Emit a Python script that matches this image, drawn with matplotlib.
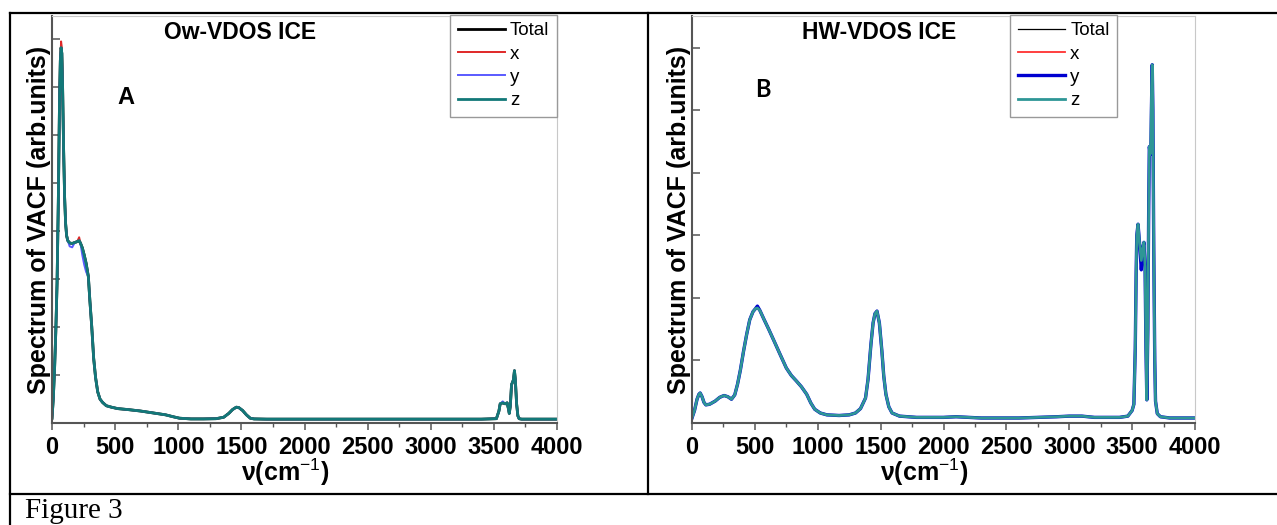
import matplotlib
matplotlib.use('Agg')
import matplotlib.pyplot as plt
from matplotlib.lines import Line2D

plt.rcParams['font.family'] = ['Liberation Sans', 'DejaVu Sans']
plt.rcParams['mathtext.fontset'] = 'custom'
plt.rcParams['mathtext.rm'] = 'Liberation Sans'
plt.rcParams['mathtext.bf'] = 'Liberation Sans:bold'

# ---- Panel A: O(water) VDOS ----
ow_nu = [0, 10, 20, 30, 40, 50, 60, 66, 72, 78, 84, 92, 100, 108, 116, 125,
         140, 160, 180, 200, 215, 225, 240, 255, 270, 288, 300, 315, 330, 345,
         362, 380, 400, 430, 470, 520, 600, 700, 800, 900, 960, 1010, 1100,
         1200, 1300, 1360, 1400, 1430, 1460, 1480, 1510, 1540, 1570, 1600,
         1700, 2000, 2500, 3000, 3400, 3520, 3540, 3550, 3570, 3590, 3605,
         3615, 3622, 3630, 3640, 3648, 3655, 3663, 3670, 3680, 3690, 3700,
         3720, 3800, 4000]
ow_total = [0.1, 0.5, 1.1, 1.9, 2.9, 4.6, 6.8, 7.55, 7.82, 7.7, 7.0, 5.7, 4.7,
            4.15, 3.9, 3.8, 3.75, 3.74, 3.76, 3.78, 3.8, 3.75, 3.65, 3.5, 3.33,
            3.05, 2.55, 2.0, 1.35, 0.95, 0.65, 0.5, 0.43, 0.36, 0.33, 0.3,
            0.28, 0.25, 0.21, 0.17, 0.13, 0.1, 0.085, 0.085, 0.09, 0.12, 0.2,
            0.28, 0.33, 0.32, 0.26, 0.17, 0.1, 0.085, 0.08, 0.08, 0.08, 0.08,
            0.08, 0.09, 0.25, 0.4, 0.42, 0.4, 0.42, 0.3, 0.2, 0.35, 0.8, 0.85,
            0.9, 1.09, 0.9, 0.4, 0.15, 0.09, 0.08, 0.08, 0.08]
ow_x_dev = {72: 7.95, 78: 7.82, 215: 3.87}
ow_y_dev = {140: 3.68, 160: 3.66, 240: 3.5, 255: 3.3, 270: 3.15, 3570: 0.45}

# ---- Panel B: H(water) VDOS ----
hw_nu = [0, 20, 40, 55, 65, 80, 95, 110, 140, 184, 220, 255, 285, 314, 340,
         362, 385, 410, 435, 459, 485, 505, 520, 540, 572, 610, 653, 700, 750,
         790, 831, 870, 912, 945, 976, 1020, 1073, 1170, 1250, 1300, 1340,
         1380, 1400, 1423, 1440, 1455, 1471, 1490, 1510, 1525, 1542, 1565,
         1591, 1650, 1785, 2000, 2100, 2300, 2600, 2900, 3000, 3100, 3200,
         3400, 3466, 3500, 3514, 3525, 3532, 3537, 3547, 3560, 3573, 3585,
         3594, 3603, 3610, 3617, 3625, 3632, 3637, 3643, 3649, 3655, 3660,
         3665, 3672, 3680, 3686, 3700, 3725, 3800, 4000]
hw_total = [0.08, 0.2, 0.38, 0.46, 0.48, 0.42, 0.33, 0.29, 0.3, 0.35, 0.41,
            0.44, 0.42, 0.38, 0.45, 0.62, 0.85, 1.15, 1.42, 1.65, 1.78, 1.83,
            1.84, 1.8, 1.66, 1.5, 1.31, 1.1, 0.88, 0.76, 0.67, 0.58, 0.46,
            0.32, 0.22, 0.16, 0.13, 0.12, 0.13, 0.16, 0.23, 0.4, 0.7, 1.26,
            1.6, 1.75, 1.79, 1.6, 1.15, 0.75, 0.46, 0.26, 0.16, 0.11, 0.09,
            0.09, 0.1, 0.08, 0.08, 0.1, 0.11, 0.11, 0.09, 0.09, 0.11, 0.2, 0.3,
            1.2, 2.4, 3.0, 3.18, 2.85, 2.6, 2.8, 2.89, 2.5, 1.2, 0.37, 1.5,
            3.5, 4.42, 4.3, 4.5, 5.4, 5.73, 5.0, 2.8, 1.0, 0.35, 0.15, 0.1,
            0.08, 0.08]
hw_x_dev = {3547: 3.15}
hw_y_dev = {520: 1.87, 3573: 2.45, 3649: 4.3, 3655: 5.2}

series_labels = ['Total', 'x', 'y', 'z']
ow_colors = ['#000000', '#e02828', '#5a5aff', '#127878']
hw_colors = ['#000000', '#ff3030', '#0000d0', '#2e9696']
ow_widths = [2.0, 1.4, 1.4, 2.0]
hw_widths = [0.9, 1.3, 2.4, 2.0]


def with_dev(nu, base, dev):
    return [dev.get(n, v) for n, v in zip(nu, base)]


W, H = 1277, 525
fig = plt.figure(figsize=(W / 100, H / 100), dpi=100)


def panel(rect, nu, total, xdev, ydev, colors, widths, ymax, nticks,
          title, letter, letter_pos, letter_font, leg_x):
    ax = fig.add_axes(rect)
    ys = [total, with_dev(nu, total, xdev), with_dev(nu, total, ydev), total]
    for y, c, lw, lab in zip(ys, colors, widths, series_labels):
        ax.plot(nu, y, color=c, lw=lw, label=lab)
    ax.set_xlim(0, 4000)
    ax.set_ylim(0, ymax)
    ax.set_xticks(range(0, 4001, 500), [str(v) for v in range(0, 4001, 500)],
                  fontsize=17, fontweight='bold')
    ax.set_xticks(range(250, 4000, 500), minor=True)
    ax.set_yticks(range(1, nticks + 1))
    ax.tick_params(axis='x', which='major', direction='out', length=5,
                   width=1.1, color='#555555', pad=4)
    ax.tick_params(axis='x', which='minor', direction='out', length=3,
                   width=1.0, color='#555555')
    ax.tick_params(axis='y', direction='in', length=6, width=1.1,
                   color='#555555', labelleft=False)
    for s in ['left', 'bottom']:
        ax.spines[s].set_color('#555555')
        ax.spines[s].set_linewidth(1.5)
    for s in ['top', 'right']:
        ax.spines[s].set_color('#c8c8c8')
        ax.spines[s].set_linewidth(0.8)
    ax.set_xlabel(r'ν(cm$^{-1}$)', fontsize=18, fontweight='bold')
    ax.xaxis.set_label_coords(0.461, -0.083)
    ax.set_ylabel('Spectrum of VACF (arb.units)', fontsize=18,
                  fontweight='bold', labelpad=0.5)
    ax.text(0.372, 0.96, title, transform=ax.transAxes, ha='center',
            va='center', fontsize=16.5, fontweight='bold')
    ax.text(letter_pos[0], letter_pos[1], letter, transform=ax.transAxes,
            ha='center', va='center', fontsize=17, fontweight='bold',
            family=letter_font)
    leg = ax.legend(loc='upper right', bbox_to_anchor=(leg_x, 1.003),
                    borderaxespad=0, fontsize=13.5, handlelength=2.5,
                    handletextpad=0.3, labelspacing=0.33, borderpad=0.4,
                    fancybox=False, framealpha=1)
    leg.get_frame().set_edgecolor('#999999')
    leg.get_frame().set_linewidth(1.0)
    return ax


panel([52 / W, 102 / H, 505 / W, 407 / H], ow_nu, ow_total, ow_x_dev,
      ow_y_dev, ow_colors, ow_widths, 8.48, 8, 'Ow-VDOS ICE', 'A',
      (0.146, 0.80), ['Liberation Sans'], 1.0)
panel([692 / W, 102 / H, 503 / W, 407 / H], hw_nu, hw_total, hw_x_dev,
      hw_y_dev, hw_colors, hw_widths, 6.51, 6, 'HW-VDOS ICE', 'B',
      (0.14, 0.82), ['Lato', 'DejaVu Sans'], 0.845)

# table borders around the figure cells
def rule(x0, y0, x1, y1):
    fig.add_artist(Line2D([x0 / W, x1 / W], [1 - y0 / H, 1 - y1 / H],
                          transform=fig.transFigure, color='black', lw=1.6))

rule(10, 13, W, 13)
rule(10, 13, 10, H)
rule(647.7, 13, 647.7, 493.7)
rule(10, 493.7, W, 493.7)

fig.text(25 / W, 7.5 / H, 'Figure 3', family='Liberation Serif', fontsize=21,
         va='baseline', ha='left')

fig.savefig('out.png', dpi=100)
